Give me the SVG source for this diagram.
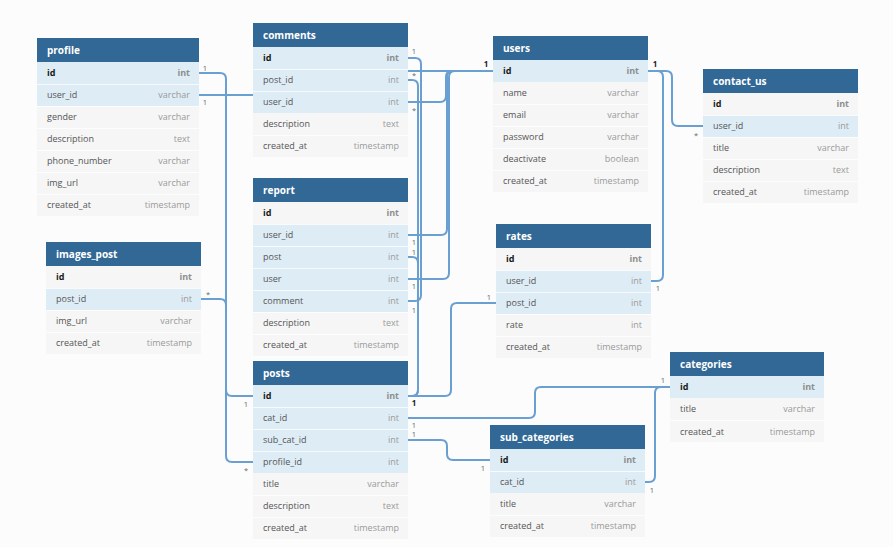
<svg xmlns="http://www.w3.org/2000/svg" width="893" height="547" viewBox="0 0 893 547">
<style>
.bg{fill:#fcfcfc}
.hd{fill:#316896}
.ht{font-family:"Open Sans","DejaVu Sans",sans-serif;font-size:10px;font-weight:bold;fill:#ffffff}
.r{fill:#f6f6f6}
.h{fill:#deecf5}
.sep{stroke:#ffffff;stroke-width:1;opacity:0.8}
.f{font-family:"Open Sans","DejaVu Sans",sans-serif;font-size:9px;fill:#555555}
.k{font-family:"Open Sans","DejaVu Sans",sans-serif;font-size:9px;font-weight:bold;fill:#1a1a1a}
.t{font-family:"Open Sans","DejaVu Sans",sans-serif;font-size:9px;fill:#9a9a9a;text-anchor:end}
.tk{font-family:"Open Sans","DejaVu Sans",sans-serif;font-size:9px;font-weight:bold;fill:#8e8e8e;text-anchor:end}
.c{fill:none;stroke:#6a9fd2;stroke-width:2}
.l{font-family:"Open Sans","DejaVu Sans",sans-serif;font-size:7.5px;fill:#666666;text-anchor:middle}
.lb{font-family:"Open Sans","DejaVu Sans",sans-serif;font-size:8px;font-weight:bold;fill:#222222;text-anchor:middle}
</style>
<rect class="bg" x="0" y="0" width="893" height="547"/>

<g id="connectors">
<path class="c" d="M199,73 H220 Q226,73 226,79 V456 Q226,462 232,462 H253"/>
<path class="c" d="M201,299 H220 Q226,299 226,305 V390 Q226,396 232,396 H253"/>
<path class="c" d="M199,95 H330 V71 H493"/>
<path class="c" d="M408,58 H415 Q421,58 421,64 V295 Q421,301 415,301 H408"/>
<path class="c" d="M408,80 H412 Q418,80 418,86 V390 Q418,396 412,396 H408"/>
<path class="c" d="M408,257 H412 Q418,257 418,263 V390 Q418,396 412,396 H408"/>
<path class="c" d="M408,102 H440 Q446,102 446,96 V77 Q446,71 452,71 H493"/>
<path class="c" d="M408,235 H441 Q447,235 447,229 V77 Q447,71 453,71 H493"/>
<path class="c" d="M408,279 H443 Q449,279 449,273 V77 Q449,71 455,71 H493"/>
<path class="c" d="M496,303 H457 Q451,303 451,309 V390 Q451,396 445,396 H408"/>
<path class="c" d="M408,418 H529 Q535,418 535,412 V393 Q535,387 541,387 H670"/>
<path class="c" d="M408,440 H441 Q447,440 447,446 V454 Q447,460 453,460 H490"/>
<path class="c" d="M645,482 H649 Q655,482 655,476 V393 Q655,387 661,387 H670"/>
<path class="c" d="M648,71 H666 Q672,71 672,77 V120 Q672,126 678,126 H703"/>
<path class="c" d="M648,71 H657 Q663,71 663,77 V275 Q663,281 657,281 H651"/>
<text class="l" x="205" y="71">1</text>
<text class="l" x="205" y="105">1</text>
<text class="l" x="208" y="297">*</text>
<text class="l" x="246" y="407">1</text>
<text class="l" x="246" y="473">*</text>
<text class="l" x="414" y="54">1</text>
<text class="l" x="414" y="78">*</text>
<text class="l" x="414" y="113">*</text>
<text class="lb" x="486" y="67">1</text>
<text class="lb" x="655" y="67">1</text>
<text class="l" x="696" y="138">*</text>
<text class="l" x="658" y="291">1</text>
<text class="l" x="414" y="245">1</text>
<text class="l" x="414" y="255">1</text>
<text class="l" x="414" y="289">1</text>
<text class="l" x="414" y="313">1</text>
<text class="l" x="489" y="300">1</text>
<text class="lb" x="414" y="406">1</text>
<text class="l" x="414" y="428">1</text>
<text class="l" x="414" y="437">1</text>
<text class="l" x="483" y="471">1</text>
<text class="l" x="663" y="383">1</text>
<text class="l" x="652" y="493">1</text>
</g>

<g id="profile">
<rect class="hd" x="37" y="38" width="162" height="24"/>
<text class="ht" x="47" y="54">profile</text>
<rect class="h" x="37" y="62" width="162" height="44"/>
<rect class="r" x="37" y="106" width="162" height="110"/>
<path class="sep" d="M37,84.5 H199 M37,106.5 H199 M37,128.5 H199 M37,150.5 H199 M37,172.5 H199 M37,194.5 H199"/>
<text class="k" x="47" y="76">id</text><text class="tk" x="190" y="76">int</text>
<text class="f" x="47" y="98">user_id</text><text class="t" x="190" y="98">varchar</text>
<text class="f" x="47" y="120">gender</text><text class="t" x="190" y="120">varchar</text>
<text class="f" x="47" y="142">description</text><text class="t" x="190" y="142">text</text>
<text class="f" x="47" y="164">phone_number</text><text class="t" x="190" y="164">varchar</text>
<text class="f" x="47" y="186">img_url</text><text class="t" x="190" y="186">varchar</text>
<text class="f" x="47" y="208">created_at</text><text class="t" x="190" y="208">timestamp</text>
</g>

<g id="comments">
<rect class="hd" x="253" y="23" width="155" height="24"/>
<text class="ht" x="263" y="39">comments</text>
<rect class="h" x="253" y="47" width="155" height="66"/>
<rect class="r" x="253" y="113" width="155" height="44"/>
<path class="sep" d="M253,69.5 H408 M253,91.5 H408 M253,135.5 H408"/>
<text class="k" x="263" y="61">id</text><text class="tk" x="399" y="61">int</text>
<text class="f" x="263" y="83">post_id</text><text class="t" x="399" y="83">int</text>
<text class="f" x="263" y="105">user_id</text><text class="t" x="399" y="105">int</text>
<text class="f" x="263" y="127">description</text><text class="t" x="399" y="127">text</text>
<text class="f" x="263" y="149">created_at</text><text class="t" x="399" y="149">timestamp</text>
</g>

<g id="users">
<rect class="hd" x="493" y="36" width="155" height="24"/>
<text class="ht" x="503" y="52">users</text>
<rect class="h" x="493" y="60" width="155" height="22"/>
<rect class="r" x="493" y="82" width="155" height="110"/>
<path class="sep" d="M493,104.5 H648 M493,126.5 H648 M493,148.5 H648 M493,170.5 H648"/>
<text class="k" x="503" y="74">id</text><text class="tk" x="639" y="74">int</text>
<text class="f" x="503" y="96">name</text><text class="t" x="639" y="96">varchar</text>
<text class="f" x="503" y="118">email</text><text class="t" x="639" y="118">varchar</text>
<text class="f" x="503" y="140">password</text><text class="t" x="639" y="140">varchar</text>
<text class="f" x="503" y="162">deactivate</text><text class="t" x="639" y="162">boolean</text>
<text class="f" x="503" y="184">created_at</text><text class="t" x="639" y="184">timestamp</text>
</g>

<g id="contact_us">
<rect class="hd" x="703" y="69" width="155" height="24"/>
<text class="ht" x="713" y="85">contact_us</text>
<rect class="r" x="703" y="93" width="155" height="110"/>
<rect class="h" x="703" y="115" width="155" height="22"/>
<path class="sep" d="M703,115.5 H858 M703,137.5 H858 M703,159.5 H858 M703,181.5 H858"/>
<text class="k" x="713" y="107">id</text><text class="tk" x="849" y="107">int</text>
<text class="f" x="713" y="129">user_id</text><text class="t" x="849" y="129">int</text>
<text class="f" x="713" y="151">title</text><text class="t" x="849" y="151">varchar</text>
<text class="f" x="713" y="173">description</text><text class="t" x="849" y="173">text</text>
<text class="f" x="713" y="195">created_at</text><text class="t" x="849" y="195">timestamp</text>
</g>

<g id="report">
<rect class="hd" x="253" y="178" width="155" height="24"/>
<text class="ht" x="263" y="194">report</text>
<rect class="r" x="253" y="202" width="155" height="154"/>
<rect class="h" x="253" y="224" width="155" height="88"/>
<path class="sep" d="M253,224.5 H408 M253,246.5 H408 M253,268.5 H408 M253,290.5 H408 M253,312.5 H408 M253,334.5 H408"/>
<text class="k" x="263" y="216">id</text><text class="tk" x="399" y="216">int</text>
<text class="f" x="263" y="238">user_id</text><text class="t" x="399" y="238">int</text>
<text class="f" x="263" y="260">post</text><text class="t" x="399" y="260">int</text>
<text class="f" x="263" y="282">user</text><text class="t" x="399" y="282">int</text>
<text class="f" x="263" y="304">comment</text><text class="t" x="399" y="304">int</text>
<text class="f" x="263" y="326">description</text><text class="t" x="399" y="326">text</text>
<text class="f" x="263" y="348">created_at</text><text class="t" x="399" y="348">timestamp</text>
</g>

<g id="images_post">
<rect class="hd" x="46" y="242" width="155" height="24"/>
<text class="ht" x="56" y="258">images_post</text>
<rect class="r" x="46" y="266" width="155" height="88"/>
<rect class="h" x="46" y="288" width="155" height="22"/>
<path class="sep" d="M46,288.5 H201 M46,310.5 H201 M46,332.5 H201"/>
<text class="k" x="56" y="280">id</text><text class="tk" x="192" y="280">int</text>
<text class="f" x="56" y="302">post_id</text><text class="t" x="192" y="302">int</text>
<text class="f" x="56" y="324">img_url</text><text class="t" x="192" y="324">varchar</text>
<text class="f" x="56" y="346">created_at</text><text class="t" x="192" y="346">timestamp</text>
</g>

<g id="posts">
<rect class="hd" x="253" y="361" width="155" height="24"/>
<text class="ht" x="263" y="377">posts</text>
<rect class="h" x="253" y="385" width="155" height="88"/>
<rect class="r" x="253" y="473" width="155" height="66"/>
<path class="sep" d="M253,407.5 H408 M253,429.5 H408 M253,451.5 H408 M253,495.5 H408 M253,517.5 H408"/>
<text class="k" x="263" y="399">id</text><text class="tk" x="399" y="399">int</text>
<text class="f" x="263" y="421">cat_id</text><text class="t" x="399" y="421">int</text>
<text class="f" x="263" y="443">sub_cat_id</text><text class="t" x="399" y="443">int</text>
<text class="f" x="263" y="465">profile_id</text><text class="t" x="399" y="465">int</text>
<text class="f" x="263" y="487">title</text><text class="t" x="399" y="487">varchar</text>
<text class="f" x="263" y="509">description</text><text class="t" x="399" y="509">text</text>
<text class="f" x="263" y="531">created_at</text><text class="t" x="399" y="531">timestamp</text>
</g>

<g id="rates">
<rect class="hd" x="496" y="224" width="155" height="24"/>
<text class="ht" x="506" y="240">rates</text>
<rect class="r" x="496" y="248" width="155" height="110"/>
<rect class="h" x="496" y="270" width="155" height="44"/>
<path class="sep" d="M496,270.5 H651 M496,292.5 H651 M496,314.5 H651 M496,336.5 H651"/>
<text class="k" x="506" y="262">id</text><text class="tk" x="642" y="262">int</text>
<text class="f" x="506" y="284">user_id</text><text class="t" x="642" y="284">int</text>
<text class="f" x="506" y="306">post_id</text><text class="t" x="642" y="306">int</text>
<text class="f" x="506" y="328">rate</text><text class="t" x="642" y="328">int</text>
<text class="f" x="506" y="350">created_at</text><text class="t" x="642" y="350">timestamp</text>
</g>

<g id="categories">
<rect class="hd" x="670" y="352" width="154" height="24"/>
<text class="ht" x="680" y="368">categories</text>
<rect class="h" x="670" y="376" width="154" height="22"/>
<rect class="r" x="670" y="398" width="154" height="44"/>
<path class="sep" d="M670,420.5 H824"/>
<text class="k" x="680" y="390">id</text><text class="tk" x="815" y="390">int</text>
<text class="f" x="680" y="412">title</text><text class="t" x="815" y="412">varchar</text>
<text class="f" x="680" y="435">created_at</text><text class="t" x="815" y="435">timestamp</text>
</g>

<g id="sub_categories">
<rect class="hd" x="490" y="425" width="155" height="24"/>
<text class="ht" x="500" y="441">sub_categories</text>
<rect class="h" x="490" y="449" width="155" height="44"/>
<rect class="r" x="490" y="493" width="155" height="44"/>
<path class="sep" d="M490,471.5 H645 M490,515.5 H645"/>
<text class="k" x="500" y="463">id</text><text class="tk" x="636" y="463">int</text>
<text class="f" x="500" y="485">cat_id</text><text class="t" x="636" y="485">int</text>
<text class="f" x="500" y="507">title</text><text class="t" x="636" y="507">varchar</text>
<text class="f" x="500" y="529">created_at</text><text class="t" x="636" y="529">timestamp</text>
</g>
</svg>
